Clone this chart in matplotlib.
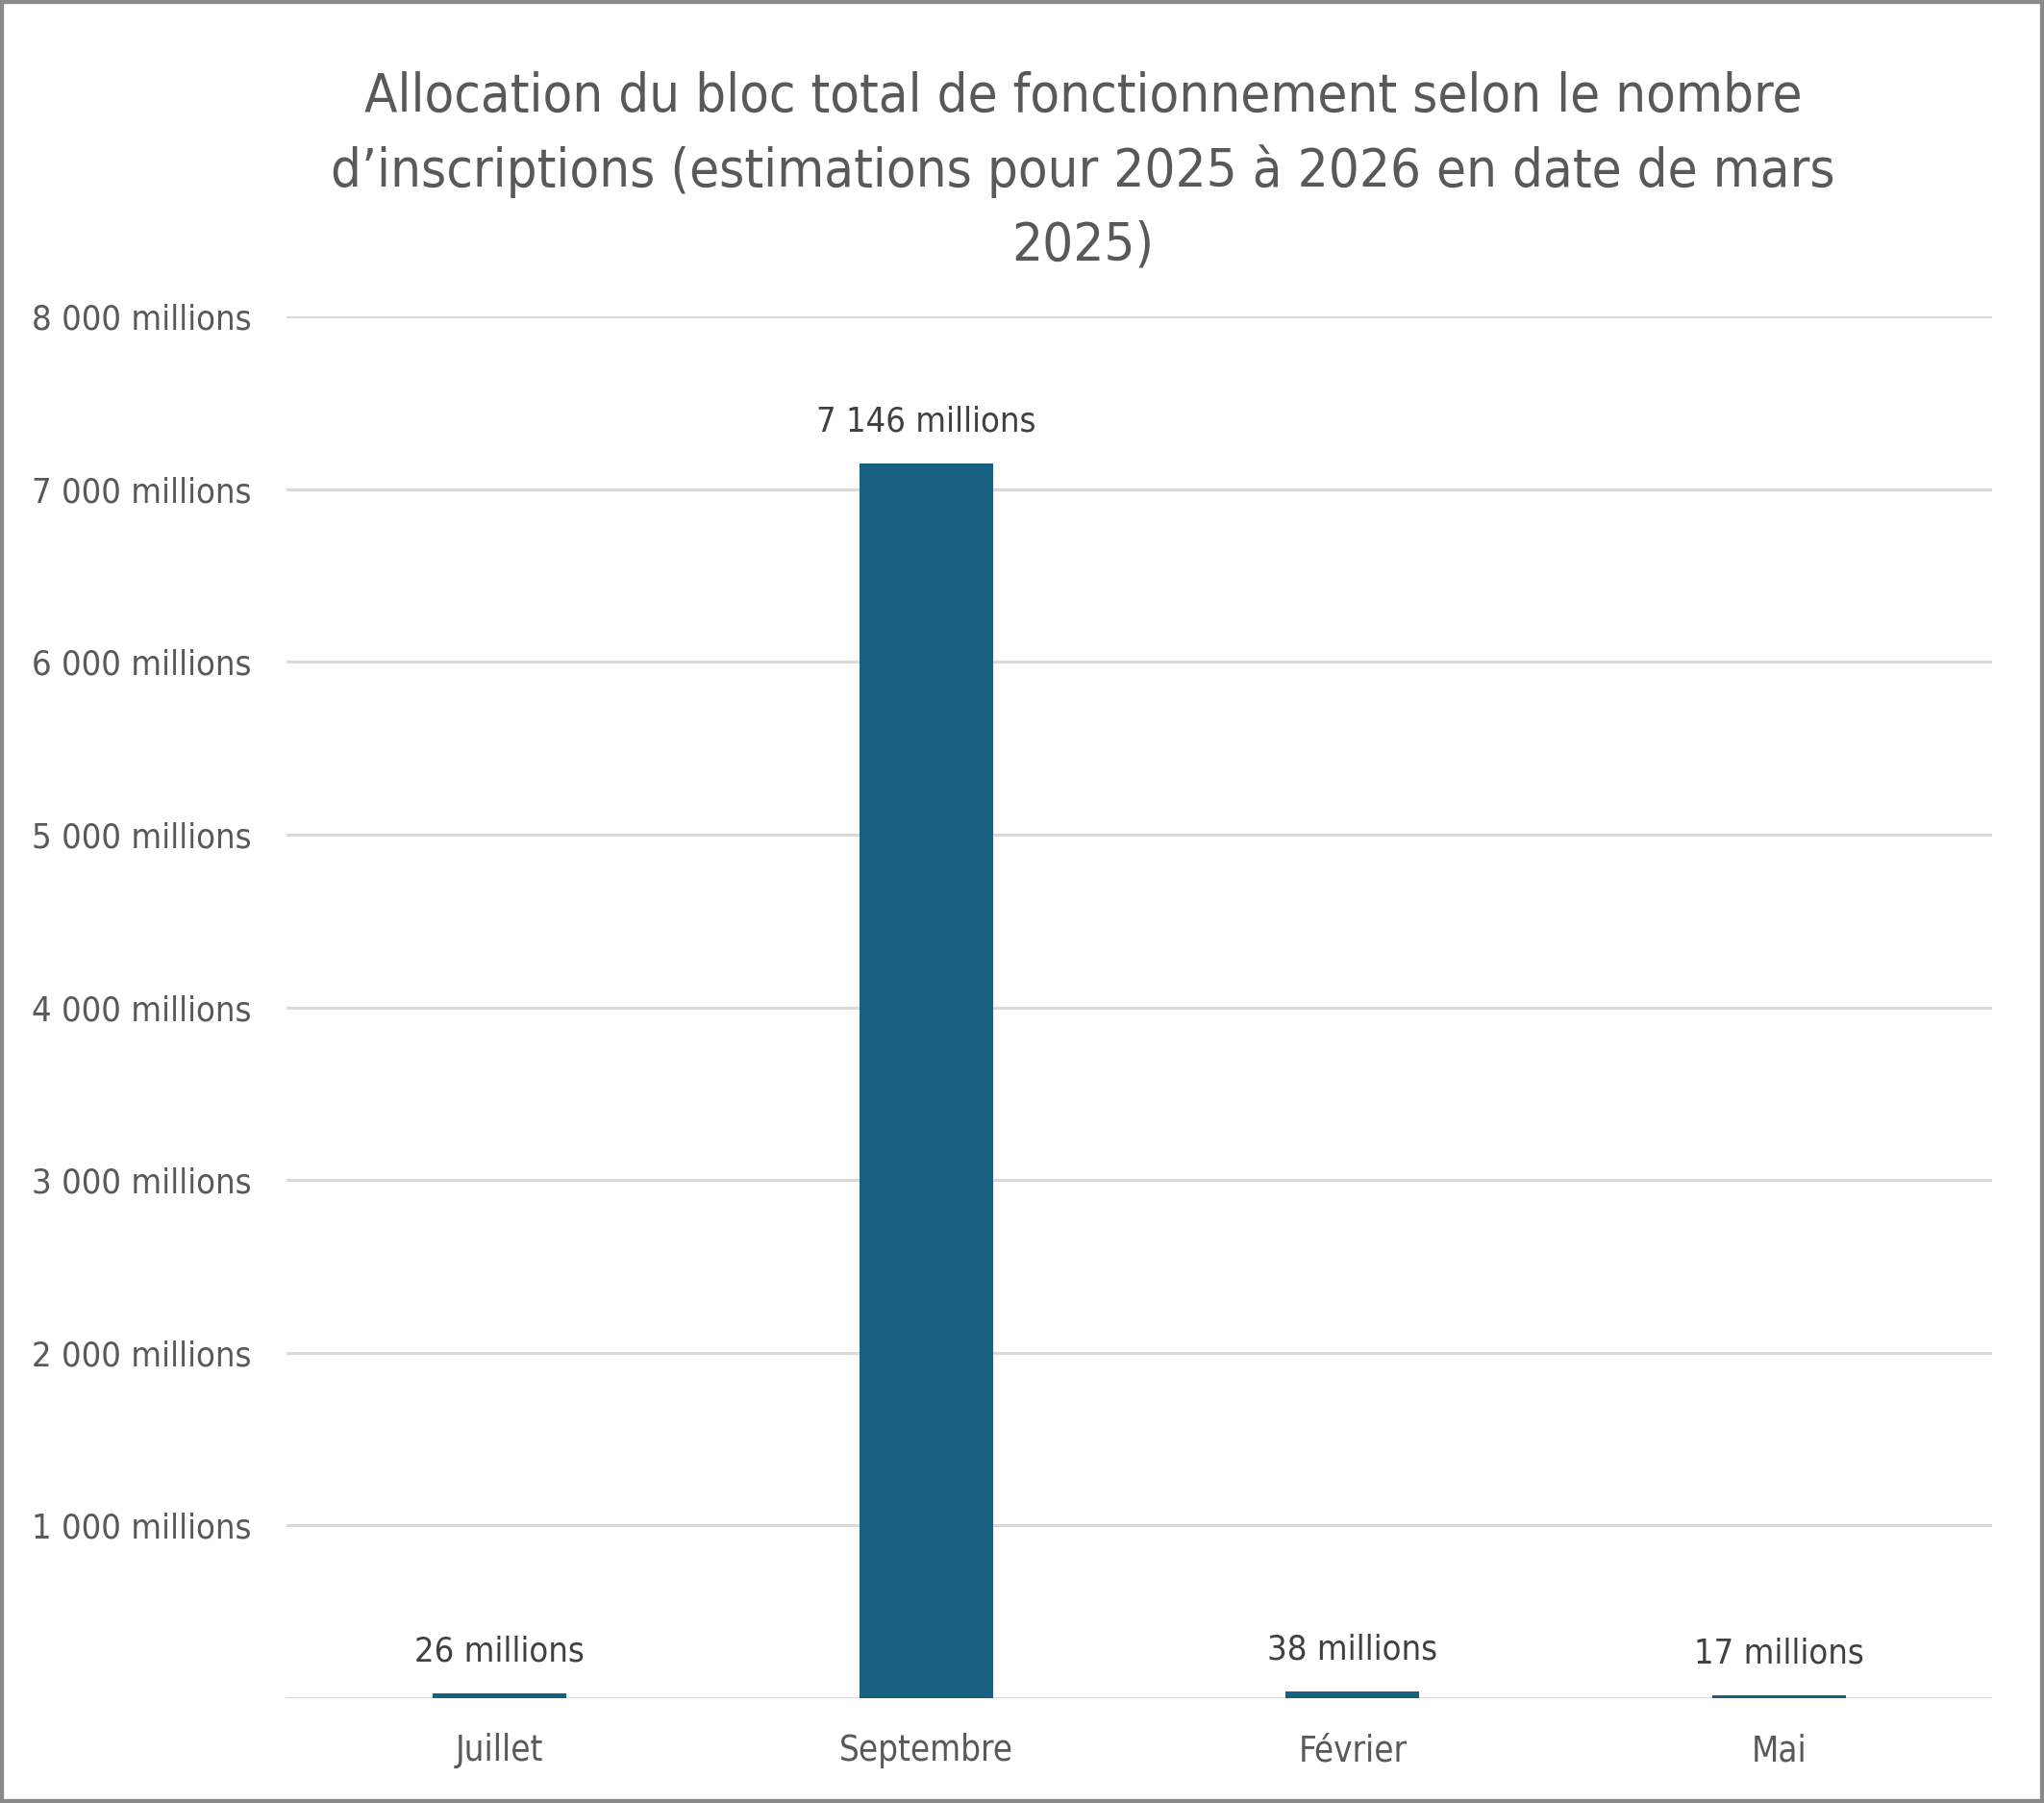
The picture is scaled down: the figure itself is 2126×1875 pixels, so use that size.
import os
import matplotlib
matplotlib.use("Agg")
import matplotlib.pyplot as plt
from matplotlib import font_manager
from matplotlib.font_manager import FontProperties
from matplotlib.patches import Rectangle

months = ["Juillet", "Septembre", "Février", "Mai"]
allocation = [26, 7146, 38, 17]  # en millions
ytick_values = [1000, 2000, 3000, 4000, 5000, 6000, 7000, 8000]
title = ("Allocation du bloc total de fonctionnement selon le nombre\n"
         "d’inscriptions (estimations pour 2025 à 2026 en date de mars\n"
         "2025)")

# the original uses a narrow sans at regular weight; look for one on disk
narrow = []
for f in font_manager.fontManager.ttflist:
    base = os.path.basename(f.fname).lower()
    if f.style != "normal" or f.weight not in (400, "normal", "regular"):
        continue
    if "condensed" in base or "narrow" in base or f.stretch in ("condensed", "semi-condensed"):
        if "semi" in base or "extra" in base or "ultra" in base:
            continue
        narrow.append(f)
narrow.sort(key=lambda f: (0 if "sans" in f.name.lower() else 1, f.name))
if narrow:
    fp = FontProperties(fname=narrow[0].fname)
else:
    fp = FontProperties(family="Roboto")


def font(size):
    p = fp.copy()
    p.set_size(size)
    return p


def fmt_millions(v):
    return f"{v:,}".replace(",", " ") + " millions"


fig = plt.figure(figsize=(21.26, 18.75), dpi=100)
ax = fig.add_axes([0.1402, 0.0581, 0.8344, 0.7664])

bar_color = "#176082"
ax.bar(range(len(months)), allocation, width=0.313, color=bar_color, zorder=3)

for i, v in enumerate(allocation):
    ax.annotate(fmt_millions(v), (i, v), xytext=(0, 31.5), textcoords="offset points",
                ha="center", va="center", color="#404040", fontproperties=font(26))

ax.set_xlim(-0.5, len(months) - 0.5)
ax.set_ylim(0, 8000)
ax.set_yticks(ytick_values)
ax.set_yticklabels([fmt_millions(v) for v in ytick_values], fontproperties=font(26))
ax.set_xticks(range(len(months)))
ax.set_xticklabels(months, fontproperties=font(26.3))
ax.tick_params(axis="y", length=0, pad=26, labelcolor="#595959")
ax.tick_params(axis="x", length=0, pad=26, labelcolor="#595959")

ax.grid(axis="y", color="#d9d9d9", linewidth=2.2, zorder=0)
ax.axhline(0, color="#d9d9d9", linewidth=2.2, zorder=2)
for s in ax.spines.values():
    s.set_visible(False)

fig.text(0.530, 0.905, title, ha="center", va="center", color="#595959",
         linespacing=1.53, fontproperties=font(40.3))

fig.patches.append(Rectangle((0, 0), 1, 1, transform=fig.transFigure, fill=False,
                             edgecolor="#898989", linewidth=6))

fig.savefig("out.png", dpi=100)
